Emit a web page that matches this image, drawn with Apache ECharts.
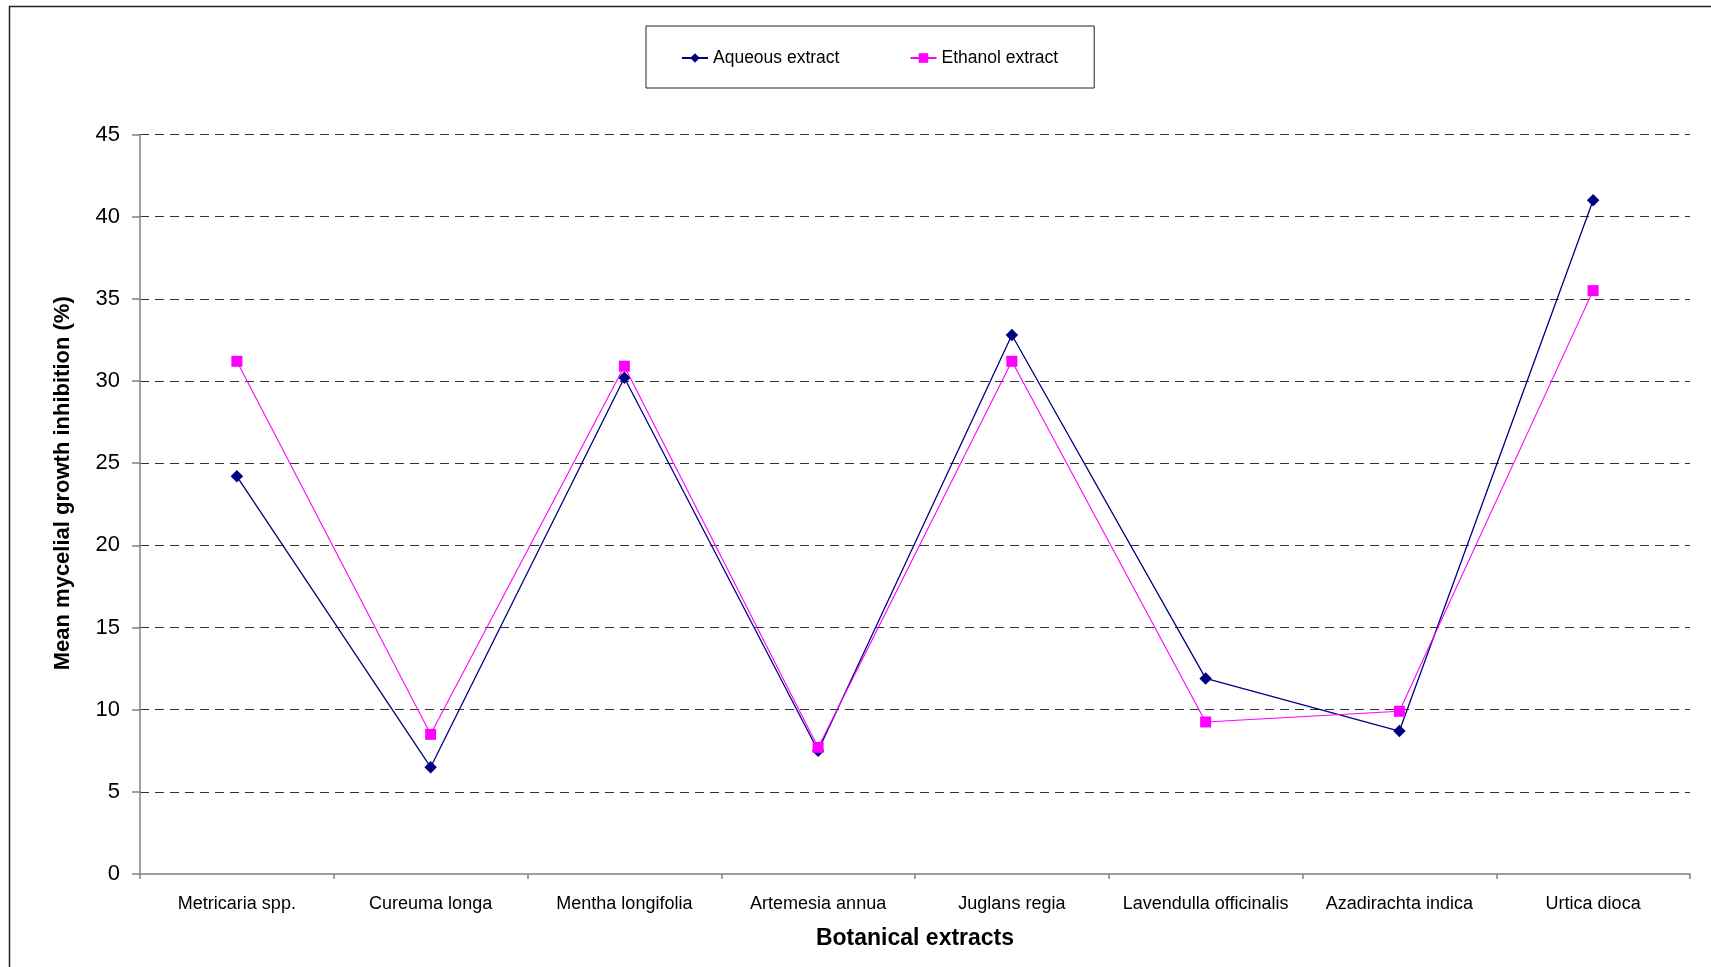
<!DOCTYPE html>
<html>
<head>
<meta charset="utf-8">
<script src="https://cdn.jsdelivr.net/npm/echarts@6/dist/echarts.min.js"></script>
<style>
html,body{margin:0;padding:0;background:#fff;}
#chart{width:1711px;height:967px;}
</style>
</head>
<body>
<div id="chart"></div>
<script>
var categories = ['Metricaria spp.', 'Cureuma longa', 'Mentha longifolia', 'Artemesia annua', 'Juglans regia', 'Lavendulla officinalis', 'Azadirachta indica', 'Urtica dioca'];
var aqueousExtract = [24.2, 6.5, 30.2, 7.5, 32.8, 11.9, 8.7, 41.0];
var ethanolExtract = [31.2, 8.5, 30.9, 7.7, 31.2, 9.25, 9.9, 35.5];
var yTicks = { min: 0, max: 45, interval: 5 };

var FONT = '"Liberation Sans", Arial, sans-serif';
var chart = echarts.init(document.getElementById('chart'), null, { renderer: 'canvas' });
chart.setOption({
  animation: false,
  backgroundColor: '#ffffff',
  textStyle: { fontFamily: FONT, color: '#000' },
  graphic: [{
    type: 'rect',
    shape: { x: 9.5, y: 6.5, width: 1800, height: 1000 },
    style: { fill: 'none', stroke: '#222', lineWidth: 1.5 },
    silent: true
  }],
  legend: {
    left: 646,
    top: 26,
    padding: [20, 36, 18, 35],
    itemGap: 70,
    itemWidth: 26,
    itemHeight: 12,
    borderColor: '#222',
    borderWidth: 1,
    textStyle: { fontFamily: FONT, fontSize: 17.5, color: '#000', lineHeight: 24 },
    data: ['Aqueous extract', 'Ethanol extract']
  },
  grid: { left: 140, right: 21, top: 134.5, bottom: 93, containLabel: false },
  xAxis: {
    type: 'category',
    data: categories,
    boundaryGap: true,
    name: 'Botanical extracts',
    nameLocation: 'middle',
    nameGap: 53,
    nameTextStyle: { fontFamily: FONT, fontSize: 23, fontWeight: 'bold', color: '#000' },
    axisLine: { lineStyle: { color: '#808080', width: 1.5 } },
    axisTick: { show: true, length: 5, lineStyle: { color: '#808080', width: 1.5 } },
    axisLabel: { fontFamily: FONT, fontSize: 18, color: '#000', margin: 21, interval: 0 },
    splitLine: { show: false }
  },
  yAxis: {
    type: 'value',
    min: yTicks.min,
    max: yTicks.max,
    interval: yTicks.interval,
    name: 'Mean mycelial growth inhibition (%)',
    nameLocation: 'middle',
    nameGap: 66,
    nameTextStyle: { fontFamily: FONT, fontSize: 22, fontWeight: 'bold', color: '#000', padding: [0, 0, 0, 42] },
    axisLine: { show: true, lineStyle: { color: '#808080', width: 1.5 } },
    axisTick: { show: true, length: 8, lineStyle: { color: '#808080', width: 1.5 } },
    axisLabel: { fontFamily: FONT, fontSize: 22, color: '#000', margin: 20 },
    splitLine: { show: true, showMinLine: false, lineStyle: { color: '#333', width: 1, type: [9, 6] } }
  },
  series: [
    {
      name: 'Aqueous extract',
      type: 'line',
      data: aqueousExtract,
      symbol: 'diamond',
      symbolSize: 12.5,
      color: '#000080',
      lineStyle: { color: '#000080', width: 1.3 },
      itemStyle: { color: '#000080' },
      z: 3
    },
    {
      name: 'Ethanol extract',
      type: 'line',
      data: ethanolExtract,
      symbol: 'rect',
      symbolSize: 11,
      color: '#FF00FF',
      lineStyle: { color: '#FF00FF', width: 1.1 },
      itemStyle: { color: '#FF00FF' },
      z: 4
    }
  ]
});
</script>
</body>
</html>
